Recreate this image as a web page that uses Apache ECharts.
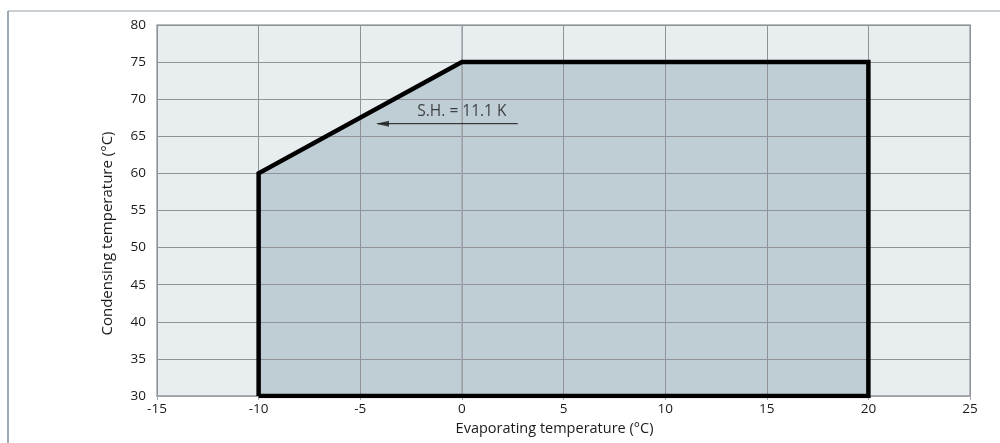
<!DOCTYPE html>
<html><head><meta charset="utf-8">
<script src="https://cdn.jsdelivr.net/npm/echarts@6/dist/echarts.min.js"></script>
<style>html,body{margin:0;padding:0;background:#fff}#c{width:1000px;height:443px}</style>
</head><body><div id="c"></div>
<script>
// Operating envelope polygon (evaporating °C, condensing °C)
const envelopeEvap = [-10, -10, 0, 20, 20, -10];
const envelopeCond = [30, 60, 75, 75, 30, 30];
// Superheat annotation arrow (from tail to head) and label
const arrowEvap = [2.75, -4.15];
const arrowCond = [66.7, 66.7];
const noteText = 'S.H. = 11.1 K';
const noteEvap = [0];
const noteCond = [68.3];
// Axis settings
const xTicks = {min: -15, max: 25, interval: 5};
const yTicks = {min: 30, max: 80, interval: 5};
const xName = 'Evaporating temperature (°C)';
const yName = 'Condensing temperature (°C)';

const poly = envelopeEvap.map((x, i) => [x, envelopeCond[i]]);
const font = '"Open Sans", "Noto Sans", sans-serif';
const txt = '#1a1a1a';
const chart = echarts.init(document.getElementById('c'), null, {renderer: 'canvas'});
chart.setOption({
  animation: false,
  textStyle: {fontFamily: font},
  grid: {left: 157, right: 30, top: 25, bottom: 47, show: true,
         backgroundColor: '#e8edf0', borderColor: '#a3a7ab', borderWidth: 1.5},
  graphic: [
    {type: 'line', shape: {x1: 8, y1: 11, x2: 1000, y2: 11}, style: {stroke: '#b9c1c6', lineWidth: 1.5}},
    {type: 'line', shape: {x1: 8, y1: 11, x2: 8, y2: 443}, style: {stroke: '#7a909b', lineWidth: 1.5}}
  ],
  xAxis: {type: 'value', min: xTicks.min, max: xTicks.max, interval: xTicks.interval, z: 3,
    name: xName, nameLocation: 'middle', nameGap: 25,
    nameTextStyle: {fontSize: 14.5, color: txt, fontFamily: font, padding: [0, 18, 0, 0]},
    axisLine: {show: true, lineStyle: {color: '#a3a7ab', width: 1.5}},
    axisTick: {show: true, length: 4, lineStyle: {color: '#a3a7ab'}},
    axisLabel: {fontSize: 13.5, color: txt, margin: 6, fontFamily: font},
    splitLine: {show: true, lineStyle: {color: '#8f9396', width: 1}}},
  yAxis: {type: 'value', min: yTicks.min, max: yTicks.max, interval: yTicks.interval, z: 3,
    name: yName, nameLocation: 'middle', nameGap: 42,
    nameTextStyle: {fontSize: 15, color: txt, fontFamily: font, padding: [0, 46, 0, 0]},
    axisLine: {show: true, lineStyle: {color: '#a3a7ab', width: 1.5}},
    axisTick: {show: false},
    axisLabel: {fontSize: 13.5, color: txt, margin: 11, fontFamily: font},
    splitLine: {show: true, lineStyle: {color: '#8f9396', width: 1}}},
  series: [
    {type: 'custom', z: 1, data: [0],
     renderItem: function (params, api) {
       const pts = poly.map(p => api.coord(p));
       return {type: 'polygon', shape: {points: pts}, style: {fill: '#bfcdd4'}};
     }},
    {type: 'line', z: 5, data: poly, symbol: 'none', silent: true,
     lineStyle: {color: '#000', width: 4.5, join: 'miter'}},
    {type: 'line', z: 6, data: arrowEvap.map((x, i) => [x, arrowCond[i]]), symbol: 'none', silent: true,
     lineStyle: {color: '#1a1a1a', width: 1}},
    {type: 'scatter', z: 6, data: [[arrowEvap[1], arrowCond[1]]], symbol: 'path://M0,0 L10,-3 L10,3 Z', symbolSize: [13, 6],
     symbolOffset: [5, 0], itemStyle: {color: '#1a1a1a'}, silent: true},
    {type: 'scatter', z: 6, data: [[noteEvap[0], noteCond[0]]], symbolSize: 0, silent: true,
     label: {show: true, position: 'inside', formatter: noteText, fontSize: 15.5, color: txt, fontFamily: font}}
  ]
});
</script></body></html>
